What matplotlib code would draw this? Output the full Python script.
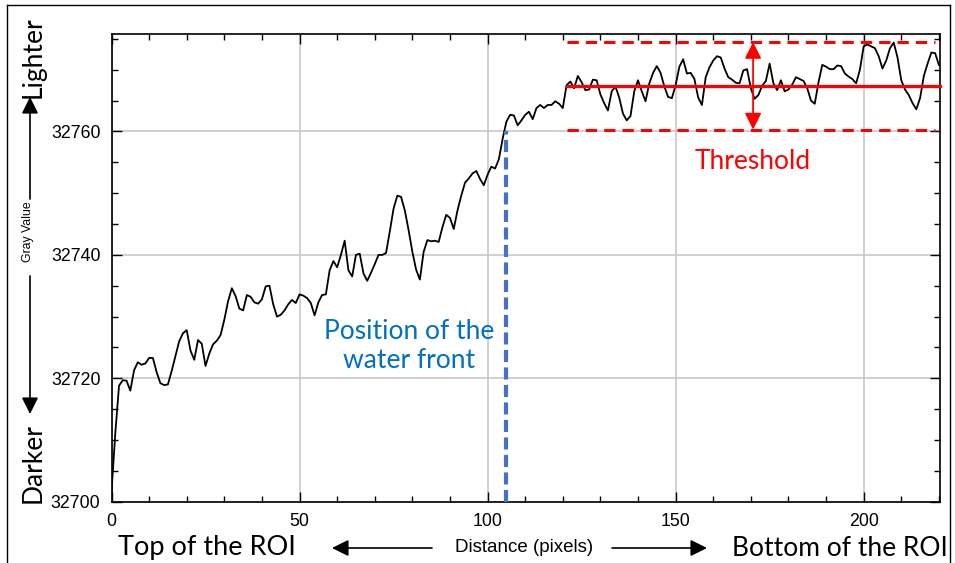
import matplotlib.pyplot as plt
from matplotlib.ticker import MultipleLocator
import numpy as np

# profile along the ROI (gray value vs distance in pixels)
distance = np.arange(0, 221)
gray_value = [
    32701.6, 32711.0, 32718.8, 32719.7, 32719.6, 32718.0, 32721.3, 32722.6, 32722.2, 32722.4,
    32723.3, 32723.3, 32721.0, 32719.2, 32718.9, 32719.0, 32721.2, 32723.6, 32726.0, 32727.3,
    32727.8, 32724.5, 32723.0, 32726.2, 32725.6, 32722.0, 32724.0, 32725.5, 32726.1, 32727.0,
    32729.5, 32732.5, 32734.6, 32733.3, 32731.3, 32731.0, 32733.5, 32733.2, 32732.3, 32732.1,
    32732.8, 32734.9, 32735.0, 32732.0, 32730.0, 32730.3, 32731.0, 32732.0, 32732.7, 32732.2,
    32733.6, 32733.4, 32733.0, 32732.2, 32730.2, 32732.3, 32733.5, 32733.6, 32737.5, 32739.0,
    32738.0, 32740.0, 32742.3, 32737.5, 32736.5, 32740.0, 32740.2, 32737.0, 32735.8, 32737.1,
    32738.5, 32740.0, 32740.0, 32740.3, 32743.8, 32747.5, 32749.6, 32749.4, 32747.2, 32744.0,
    32740.5, 32737.6, 32736.0, 32740.5, 32742.4, 32742.2, 32742.3, 32742.1, 32744.5, 32746.5,
    32746.0, 32744.2, 32747.2, 32749.6, 32751.7, 32752.4, 32753.2, 32753.6, 32752.3, 32751.3,
    32753.0, 32754.3, 32754.0, 32755.5, 32758.8, 32761.6, 32762.7, 32762.6, 32761.0, 32761.8,
    32762.7, 32763.2, 32762.0, 32763.8, 32764.3, 32763.8, 32764.3, 32764.3, 32764.9, 32764.5,
    32763.8, 32767.5, 32768.1, 32767.0, 32769.0, 32768.0, 32766.7, 32766.8, 32768.4, 32768.3,
    32766.0, 32764.6, 32763.4, 32766.5, 32767.3, 32765.5, 32762.9, 32761.8, 32762.5, 32766.5,
    32768.3, 32766.5, 32764.9, 32767.8, 32769.5, 32770.6, 32769.5, 32767.3, 32765.6, 32765.4,
    32767.5, 32770.5, 32771.7, 32769.4, 32769.5, 32768.5, 32765.5, 32764.3, 32768.8, 32770.4,
    32771.5, 32772.2, 32772.0, 32770.2, 32768.8, 32768.4, 32767.9, 32767.8, 32769.9, 32770.1,
    32767.0, 32765.3, 32765.9, 32767.4, 32768.2, 32771.0, 32767.8, 32766.7, 32768.3, 32766.5,
    32766.8, 32767.6, 32768.8, 32768.5, 32768.2, 32767.0, 32765.0, 32764.5, 32768.0, 32770.8,
    32770.5, 32770.1, 32770.1, 32770.7, 32770.6, 32769.4, 32768.9, 32768.5, 32767.8, 32770.0,
    32773.8, 32774.1, 32773.8, 32773.5, 32772.2, 32770.2, 32771.5, 32773.5, 32774.4, 32772.0,
    32768.3, 32766.8, 32765.9, 32764.6, 32763.6, 32765.4, 32769.0, 32771.0, 32772.8, 32772.7,
    32770.8,
]

# threshold band and water front marker
threshold_start = 121.2
threshold_end = 220.3
threshold_mean = 32767.4
threshold_band = 7.1
threshold_arrow_x = 170.6
water_front_x = 105
water_front_top = 32760

plt.rcParams['font.family'] = ['Liberation Sans', 'DejaVu Sans']
note_font = ['Lato', 'DejaVu Sans']

W, H = 955, 563
fig = plt.figure(figsize=(W / 100, H / 100), dpi=100)
ax = fig.add_axes([111.5 / W, 1 - 501.7 / H, (940 - 111.5) / W, (501.7 - 34) / H])

ax.plot(distance, gray_value, color='black', lw=1.3, zorder=3)
ax.set_xlim(0, 220.3)
ax.set_ylim(32700, 32775.8)

ax.xaxis.set_major_locator(MultipleLocator(50))
ax.xaxis.set_minor_locator(MultipleLocator(10))
ax.yaxis.set_major_locator(MultipleLocator(20))
ax.yaxis.set_minor_locator(MultipleLocator(5))
ax.tick_params(which='both', direction='in', top=True, right=True, width=1, labelsize=12.8)
ax.tick_params(which='major', length=7)
ax.tick_params(which='minor', length=4)
ax.tick_params(axis='x', pad=8)
ax.tick_params(axis='y', pad=8)
ax.grid(which='major', color='#c8c8c8', lw=1.2)
ax.set_axisbelow(True)
for s in ax.spines.values():
    s.set_linewidth(1.2)

# threshold lines
ax.plot([threshold_start, threshold_end], [threshold_mean, threshold_mean],
        color='red', lw=2.3, zorder=4, clip_on=False)
for y in (threshold_mean + threshold_band, threshold_mean - threshold_band):
    ax.plot([threshold_start, 219], [y, y], color='red', lw=2.2,
            ls=(0, (3.7, 2.3)), zorder=4, clip_on=False)
ax.annotate('', xy=(threshold_arrow_x, threshold_mean + threshold_band),
            xytext=(threshold_arrow_x, threshold_mean - threshold_band),
            arrowprops=dict(arrowstyle='<|-|>,head_length=0.5,head_width=0.25',
                            color='red', lw=1.3, mutation_scale=20,
                            shrinkA=0, shrinkB=0), zorder=5)
ax.text(threshold_arrow_x, 32755.1, 'Threshold', color='red', fontsize=19,
        family=note_font, ha='center', va='center')

# water front
ax.plot([water_front_x, water_front_x], [32700, water_front_top], color='#4472C4',
        lw=3, ls=(0, (2.9, 1.3)), zorder=4)
ax.text(79.1, 32725.3, 'Position of the\nwater front', color='#0070C0', fontsize=19,
        family=note_font, ha='center', va='center', linespacing=1.2)

# y-axis annotations
def fx(px):
    return px / W

def fy(py):
    return 1 - py / H

arrow_kw = dict(arrowstyle='-|>,head_length=0.5,head_width=0.25', color='black',
                lw=1.2, mutation_scale=20, shrinkA=0, shrinkB=0)
fig.text(fx(28), fy(232), 'Gray Value', rotation=90, fontsize=8.8, ha='center', va='center')
fig.text(fx(33), fy(57), 'Lighter', rotation=90, fontsize=19, family=note_font,
         ha='center', va='center')
fig.text(fx(33), fy(463), 'Darker', rotation=90, fontsize=19, family=note_font,
         ha='center', va='center')
ax.annotate('', xy=(fx(30), fy(97)), xytext=(fx(30), fy(199)),
            xycoords='figure fraction', arrowprops=arrow_kw)
ax.annotate('', xy=(fx(30), fy(414)), xytext=(fx(30), fy(276)),
            xycoords='figure fraction', arrowprops=arrow_kw)

# x-axis annotations
fig.text(fx(524), fy(548), 'Distance (pixels)', fontsize=13.5, ha='center', va='center')
fig.text(fx(207), fy(548), 'Top of the ROI', fontsize=19.5, family=note_font,
         ha='center', va='center')
fig.text(fx(840), fy(548), 'Bottom of the ROI', fontsize=19, family=note_font,
         ha='center', va='center')
ax.annotate('', xy=(fx(332), fy(548)), xytext=(fx(432), fy(548)),
            xycoords='figure fraction', arrowprops=arrow_kw)
ax.annotate('', xy=(fx(707), fy(548)), xytext=(fx(612), fy(548)),
            xycoords='figure fraction', arrowprops=arrow_kw)

# outer frame
fig.add_artist(plt.Line2D([fx(7), fx(7)], [0, fy(5)], color='black', lw=1))
fig.add_artist(plt.Line2D([fx(7), fx(950)], [fy(5), fy(5)], color='black', lw=1))
fig.add_artist(plt.Line2D([fx(950), fx(950)], [fy(5), 0], color='black', lw=1))

fig.savefig('out.png', dpi=100)
